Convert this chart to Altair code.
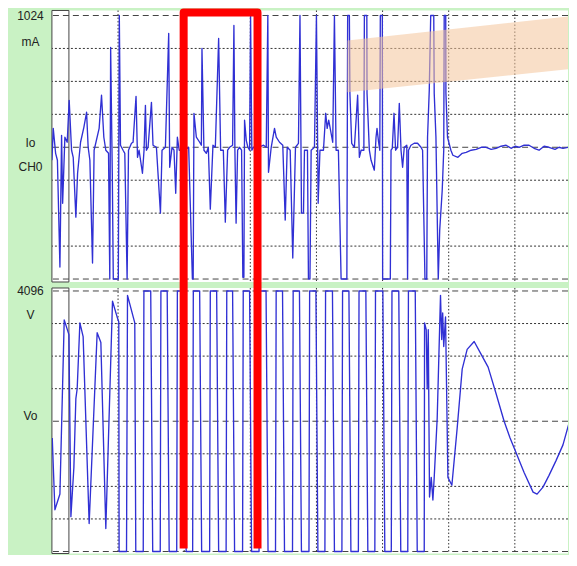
import altair as alt
import pandas as pd

# ---------------- data (time in screen divisions, Io in mA, Vo in V) ----------------
io_t = [
    0.000, 0.020, 0.056, 0.083, 0.121, 0.146, 0.162, 0.196, 0.231, 0.261,
    0.297, 0.322, 0.362, 0.388, 0.433, 0.483, 0.524, 0.548, 0.574, 0.614,
    0.638, 0.714, 0.750, 0.785, 0.815, 0.856, 0.875, 0.888, 0.913, 0.928,
    1.004, 1.019, 1.037, 1.076, 1.102, 1.137, 1.158, 1.203, 1.227, 1.272,
    1.294, 1.318, 1.369, 1.393, 1.414, 1.429, 1.454, 1.505, 1.529, 1.580,
    1.641, 1.665, 1.716, 1.766, 1.781, 1.816, 1.846, 1.872, 1.897, 1.925,
    1.992, 2.068, 2.124, 2.136, 2.148, 2.184, 2.234, 2.260, 2.269, 2.299,
    2.335, 2.365, 2.395, 2.435, 2.471, 2.521, 2.551, 2.592, 2.622, 2.657,
    2.687, 2.732, 2.752, 2.767, 2.785, 2.808, 2.838, 2.868, 2.887, 2.903,
    2.913, 2.939, 2.963, 2.989, 3.004, 3.023, 3.049, 3.125, 3.200, 3.241,
    3.265, 3.275, 3.316, 3.366, 3.392, 3.442, 3.491, 3.528, 3.558, 3.603,
    3.642, 3.683, 3.728, 3.751, 3.774, 3.804, 3.819, 3.864, 3.879, 3.902,
    3.920, 3.970, 4.000, 4.026, 4.053, 4.106, 4.140, 4.162, 4.186, 4.246,
    4.272, 4.297, 4.332, 4.373, 4.460, 4.472, 4.498, 4.506, 4.533, 4.574,
    4.623, 4.649, 4.675, 4.717, 4.725, 4.762, 4.765, 4.800, 4.826, 4.875,
    4.901, 4.916, 4.940, 4.958, 4.966, 4.996, 5.001, 5.117, 5.128, 5.147,
    5.173, 5.197, 5.227, 5.253, 5.279, 5.303, 5.328, 5.366, 5.378, 5.392,
    5.429, 5.479, 5.529, 5.581, 5.605, 5.641, 5.668, 5.680, 5.706, 5.728,
    5.774, 5.781, 5.807, 5.842, 5.864, 5.902, 5.925, 5.932, 5.955, 5.958,
    5.982, 6.033, 6.063, 6.139, 6.204, 6.264, 6.340, 6.415, 6.491, 6.566,
    6.642, 6.717, 6.792, 6.868, 6.943, 7.004, 7.064, 7.140, 7.215, 7.291,
    7.366, 7.442, 7.517, 7.608, 7.668, 7.728, 7.819, 7.925, 8.000,
]
io_ma = [
    -101, 147, -47, -101, -931, 93, -435, 78, 39, 365,
    -23, -78, -543, -202, 39, 155, 272, 0, -101, -900,
    -23, 147, 404, 78, -23, -47, -1024, 776, -202, -1024,
    -1024, 1024, 16, -23, -47, -1024, -23, 31, 39, 396,
    -78, -23, -202, -23, 326, -23, 0, 349, 16, 0,
    -512, -23, 0, 885, -155, 0, -23, -357, 78, -23,
    -23, 0, -1024, -1024, 264, 78, 39, 16, 768, -23,
    -47, 0, -481, 16, 0, 846, -23, -23, -582, -23,
    0, 16, 947, -23, -590, -23, 0, -23, -1010, -1010,
    210, 54, 0, -23, 1024, -23, 0, 0, 16, 0,
    1024, -194, 0, 147, 78, 39, 16, -566, 0, -23,
    -861, 0, 31, 1024, -512, -512, -23, -23, -1024, -1024,
    -23, 0, 1024, -435, -23, -23, 264, 147, 210, 39,
    1024, -23, -23, -1024, -1024, 1024, 1024, 419, 31, 0,
    404, -78, -23, -23, 1024, 1024, 419, -23, -101, -178,
    78, 147, 39, -23, 1024, 1024, -1024, -1024, -23, -8,
    264, -23, 0, 341, -23, -155, 0, 16, -1024, -23,
    16, 31, 31, 0, -23, -1024, -1024, 78, 442, 1024,
    1024, 419, 78, -1024, -644, -334, -23, 1024, 1024, 419,
    78, -23, -62, -78, -47, -39, -23, -16, 0, 0,
    -16, -8, 8, 16, -8, 8, 0, 16, 16, -8,
    -23, 8, 0, -16, 0, -8, 0, -23, -16,
]

# Vo: start-up section, square-wave edges, and the decaying tail
vo_head_t = [0.005, 0.045, 0.121, 0.186, 0.257, 0.287, 0.332, 0.362, 0.382, 0.423,
             0.472, 0.563, 0.684, 0.740, 0.815, 0.916, 0.986, 1.011, 1.016, 1.128,
             1.143, 1.253, 1.268]
vo_head_v = [-526, -2785, -2290, 3187, 2723, -3001, -1454, 712, 1021, 3094,
             2661, -3218, 2785, 2475, -3372, 3775, 3280, 3125, -4096, -4096,
             3960, 3094, -4096]
vo_rise = [1.381, 1.638, 1.887, 2.128, 2.385, 2.634, 2.883, 3.132, 3.381,
           3.638, 3.887, 4.128, 4.385, 4.634, 4.883, 5.132, 5.381]
vo_fall = [1.494, 1.743, 2.000, 2.234, 2.491, 2.732, 2.989, 3.238, 3.487,
           3.743, 3.992, 4.242, 4.491, 4.747, 5.004, 5.245, 5.494]
VO_LOW, VO_HIGH = -4096, 4096
RISE_EDGE, FALL_EDGE = 0.01, 0.03
vo_tail_t = [5.630, 5.635, 5.660, 5.675, 5.691, 5.710, 5.736, 5.761, 5.781, 5.826,
             5.876, 5.894, 5.909, 5.925, 5.952, 5.988, 6.048, 6.128, 6.204, 6.279,
             6.385, 6.491, 6.596, 6.717, 6.838, 6.928, 7.019, 7.140, 7.276, 7.336,
             7.426, 7.517, 7.623, 7.728, 7.819, 7.925, 8.000]
vo_tail_v = [-4096, 3094, 2877, 1021, 2877, -2382, -1764, -2475, -1764, 93,
             3960, 2568, 3403, 2351, 3280, -1764, -2011, -217, 1640, 2259,
             2506, 2104, 1702, 866, 0, -526, -990, -1609, -2228, -2290,
             -2073, -1702, -1238, -743, -62, 619, 1021]

# axis labels
io_label_vals = [1024, 823, 39, -147]
io_label_txt = ["1024", "mA", "Io", "CH0"]
vo_label_vals = [4096, 3342, 186]
vo_label_txt = ["4096", "V", "Vo"]

# grid
t_grid = [1, 2, 3, 4, 5, 6, 7]
io_major = [-1024, 0, 1024]
io_minor = [-768, -512, -256, 256, 512, 768]
vo_major = [-4096, 0, 4096]
vo_minor = [-3072, -2048, -1024, 1024, 2048, 3072]

# annotations
cursor_t = [0.0, 0.257]
band_t = [4.468, 7.925]
band_top = [830, 1024]
band_bot = [427, 613]
red_t = [1.992, 1.992, 3.109, 3.109]      # highlight frame (open at the bottom edge of the page)
red_v = [-4000, 12850, 12850, -4000]

# ---------------- layout / style ----------------
T_MAX = 7.804
IO_DOMAIN = [-1047, 1063]
VO_DOMAIN = [-4159, 4190]
W, H_TOP, H_BOT = 517, 272, 266
BG = "#c9f2c4"
TRACE = "#3030d4"
FONT = "Liberation Sans"

xs = alt.Scale(domain=[0, T_MAX], nice=False, zero=False)
ys_io = alt.Scale(domain=IO_DOMAIN, nice=False, zero=False)
ys_vo = alt.Scale(domain=VO_DOMAIN, nice=False, zero=False)


def label_expr(vals, txts):
    parts = [f"datum.value == {v} ? '{s}'" for v, s in zip(vals, txts)]
    return " : ".join(parts) + " : ''"


def make_axis(vals, txts):
    return alt.Axis(values=vals, labelExpr=label_expr(vals, txts), title=None,
                    grid=False, domain=False, ticks=False, tickSize=0,
                    labelPadding=22, labelAlign="center", labelBaseline="middle",
                    labelFont=FONT, labelFontSize=12, labelColor="#222222",
                    labelOverlap=False, labelFlush=False, labelBound=False,
                    minExtent=44, maxExtent=44, format="d")


io_axis = make_axis(io_label_vals, io_label_txt)
vo_axis = make_axis(vo_label_vals, vo_label_txt)


def panel(trace_df, yfield, yscale, yaxis, major, minor, domain):
    X = lambda f: alt.X(f, scale=xs, axis=None)
    Y = lambda f: alt.Y(f, scale=yscale, axis=yaxis)
    minor_l = alt.Chart(pd.DataFrame({"y": minor})).mark_rule(
        color="#333333", strokeWidth=1, strokeDash=[2, 2]).encode(y=Y("y:Q"))
    major_l = alt.Chart(pd.DataFrame({"y": major})).mark_rule(
        color="#444444", strokeWidth=1, strokeDash=[6, 4]).encode(y=Y("y:Q"))
    vgrid = alt.Chart(pd.DataFrame({"t": t_grid})).mark_rule(
        color="#333333", strokeWidth=1, strokeDash=[1.5, 2]).encode(x=X("t:Q"))
    cur = alt.Chart(pd.DataFrame({"t": [cursor_t[0]], "t2": [cursor_t[1]],
                                  "y": [domain[1]], "y2": [domain[0]]})).mark_rect(
        filled=False, color="#444444", strokeWidth=1).encode(
        x=X("t:Q"), x2="t2:Q", y=Y("y:Q"), y2="y2:Q")
    line = alt.Chart(trace_df).mark_line(
        color=TRACE, strokeWidth=1.35, clip=True, strokeJoin="round").encode(
        x=X("t:Q"), y=Y(f"{yfield}:Q"), order="k:Q")
    return [minor_l, major_l, vgrid, cur, line]


io_df = pd.DataFrame({"t": io_t, "io": io_ma})
io_df["k"] = range(len(io_df))

vo_t = list(vo_head_t)
vo_v = list(vo_head_v)
for r, f in zip(vo_rise, vo_fall):
    vo_t += [r, r + RISE_EDGE, f, f + FALL_EDGE]
    vo_v += [VO_LOW, VO_HIGH, VO_HIGH, VO_LOW]
vo_t += vo_tail_t
vo_v += vo_tail_v
vo_df = pd.DataFrame({"t": vo_t, "vo": vo_v})
vo_df["k"] = range(len(vo_df))

top_layers = panel(io_df, "io", ys_io, io_axis, io_major, io_minor, IO_DOMAIN)
band = alt.Chart(pd.DataFrame({"t": band_t, "top": band_top, "bot": band_bot})).mark_area(
    color="#f4c49a", opacity=0.55, clip=True).encode(
    x=alt.X("t:Q", scale=xs, axis=None),
    y=alt.Y("top:Q", scale=ys_io, axis=io_axis), y2="bot:Q")
top = alt.layer(*top_layers, band).properties(width=W, height=H_TOP)

bot_layers = panel(vo_df, "vo", ys_vo, vo_axis, vo_major, vo_minor, VO_DOMAIN)
red_df = pd.DataFrame({"t": red_t, "v": red_v, "k": range(len(red_t))})
red = alt.Chart(red_df).mark_line(
    color="#ff0000", strokeWidth=8, strokeJoin="round", strokeCap="butt", clip=False).encode(
    x=alt.X("t:Q", scale=xs, axis=None),
    y=alt.Y("v:Q", scale=ys_vo, axis=vo_axis), order="k:Q")
bottom = alt.layer(*bot_layers, red).properties(width=W, height=H_BOT)

chart = alt.vconcat(top, bottom, spacing=6, bounds="flush").properties(
    background=BG,
    padding={"left": 0, "top": 0, "right": 0, "bottom": 0},
).configure_view(stroke=None, fill="white")

chart.save("out.html", embed_options={"renderer": "svg", "actions": False})
